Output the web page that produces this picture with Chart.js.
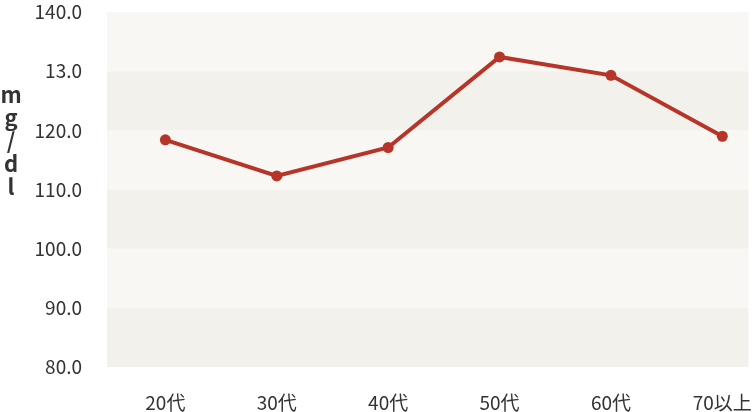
<!DOCTYPE html>
<html><head><meta charset="utf-8">
<script src="https://cdn.jsdelivr.net/npm/chart.js@4.4.0/dist/chart.umd.min.js"></script>
<style>html,body{margin:0;padding:0;background:#fff;overflow:hidden}canvas{display:block}</style>
</head><body><canvas id="c" width="754" height="412" style="width:754px;height:412px"></canvas>
<script>
const categories = ['20代','30代','40代','50代','60代','70以上'];
const values = [118.4, 112.3, 117.1, 132.4, 129.3, 119.0];
const yTickValues = [80, 90, 100, 110, 120, 130, 140];
const yTickLabels = ['80.0','90.0','100.0','110.0','120.0','13.0','140.0'];
const yTitleChars = ['m','g','/','d','l'];

const FONT = "'Noto Sans CJK JP','Noto Sans',sans-serif";

const bandPlugin = {
  id: 'bands',
  beforeDraw(chart) {
    const {ctx, chartArea, scales: {y}} = chart;
    ctx.save();
    for (let i = 0; i < yTickValues.length - 1; i++) {
      const yb = y.getPixelForValue(yTickValues[i]);
      const yt = y.getPixelForValue(yTickValues[i + 1]);
      ctx.fillStyle = (i % 2 === 0) ? '#f2f1ec' : '#f8f7f4';
      ctx.fillRect(chartArea.left, yt, chartArea.right - chartArea.left, yb - yt);
    }
    ctx.restore();
  }
};

const yTitlePlugin = {
  id: 'ytitle',
  afterDraw(chart) {
    const {ctx} = chart;
    ctx.save();
    ctx.font = "bold 22px " + FONT;
    ctx.fillStyle = '#333';
    ctx.textAlign = 'center';
    ctx.textBaseline = 'middle';
    const startY = 95, step = 23;
    yTitleChars.forEach((ch, i) => ctx.fillText(ch, 11, startY + i * step));
    ctx.restore();
  }
};

new Chart(document.getElementById('c'), {
  type: 'line',
  data: {
    datasets: [{
      data: values.map((v, i) => ({x: i, y: v})),
      borderColor: '#b73428',
      backgroundColor: '#b73428',
      borderWidth: 4,
      pointRadius: 5.5,
      pointBackgroundColor: '#b73428',
      pointBorderWidth: 0,
      tension: 0,
      clip: false
    }]
  },
  options: {
    responsive: false,
    animation: false,
    devicePixelRatio: 1,
    layout: {padding: {left: 35, top: 12, right: 2, bottom: 0}},
    plugins: {legend: {display: false}, tooltip: {enabled: false}},
    scales: {
      x: {
        type: 'linear',
        min: -0.524, max: 5.235,
        grid: {display: false, drawTicks: false},
        border: {display: false},
        afterBuildTicks(scale) { scale.ticks = categories.map((c, i) => ({value: i})); },
        afterFit(scale) { scale.height = 45; scale.paddingLeft = 0; scale.paddingRight = 0; },
        ticks: {
          callback: (v) => categories[v],
          color: '#333', font: {family: FONT, size: 19}, padding: 24, maxRotation: 0, autoSkip: false
        }
      },
      y: {
        min: 80, max: 140,
        grid: {display: false, drawTicks: false},
        border: {display: false},
        afterBuildTicks(scale) { scale.ticks = yTickValues.map(v => ({value: v})); },
        afterFit(scale) { scale.width = 72; scale.paddingTop = 0; scale.paddingBottom = 0; },
        ticks: {
          callback: (v) => yTickLabels[yTickValues.indexOf(v)],
          color: '#333', font: {family: FONT, size: 19}, padding: 25
        }
      }
    }
  },
  plugins: [bandPlugin, yTitlePlugin]
});
</script></body></html>
